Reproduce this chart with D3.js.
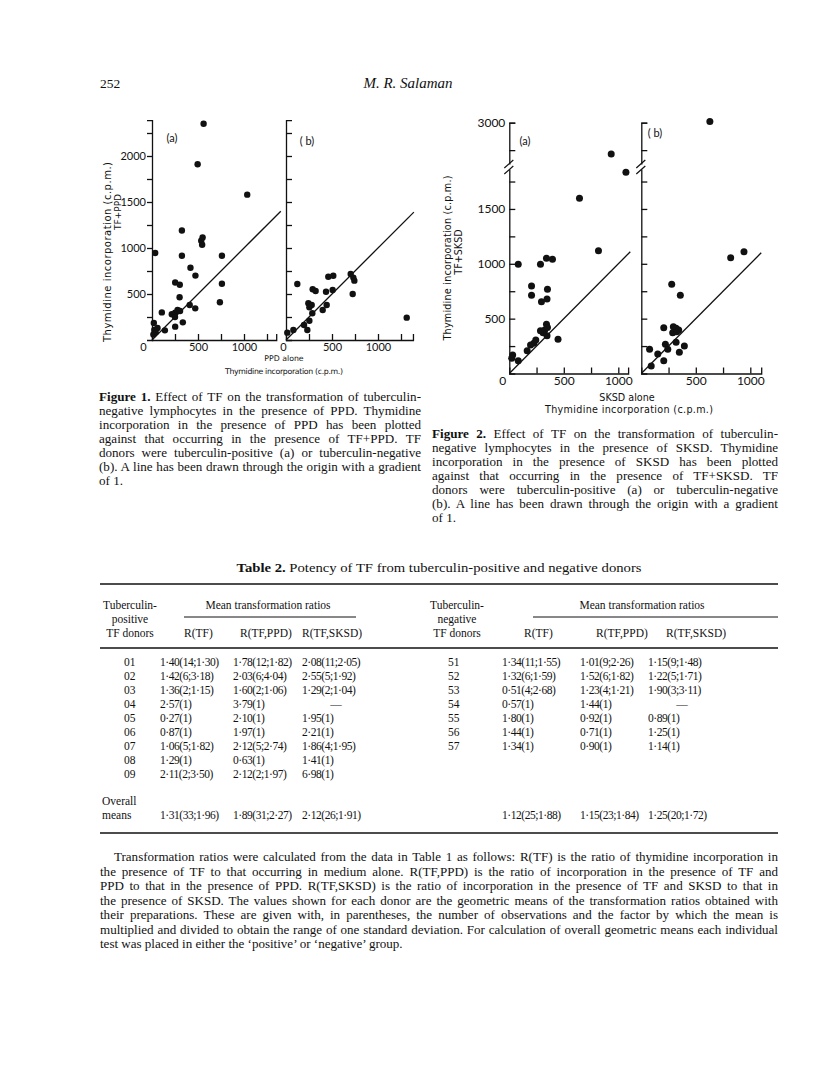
<!DOCTYPE html>
<html><head><meta charset="utf-8">
<script src="https://cdn.jsdelivr.net/npm/d3@7"></script>
<style>body{margin:0;background:#fff}</style>
</head><body>
<svg id="page" width="816" height="1079"></svg>
<script>
// ---------------- DATA ----------------
// Figure 1: PPD alone (x) vs TF+PPD (y), c.p.m.
const fig1aPoints = [[561,2350],[496,1910],[1035,1580],[325,1190],[550,1115],[535,1080],[545,1035],[35,945],[325,915],[760,915],[418,786],[472,700],[252,625],[302,600],[760,612],[300,465],[738,410],[410,380],[470,344],[107,300],[215,280],[252,297],[278,326],[305,315],[250,250],[335,192],[252,145],[140,105],[20,185],[25,110],[40,85],[15,60],[60,130]];
const fig1bPoints = [[123,609],[290,551],[322,533],[435,525],[507,543],[460,688],[514,699],[703,717],[732,678],[743,645],[725,500],[1312,243],[243,399],[254,355],[279,380],[286,290],[399,326],[442,380],[196,163],[254,210],[232,109],[80,109],[14,80]];
// Figure 2: SKSD alone (x) vs TF+SKSD (y), c.p.m.
const fig2aPoints = [[935,2715],[1070,1835],[644,1597],[818,1120],[82,995],[286,995],[341,1050],[396,1041],[204,798],[204,713],[350,767],[346,679],[295,655],[341,448],[325,396],[310,372],[286,390],[350,420],[447,312],[225,275],[243,305],[195,260],[164,208],[31,169],[22,139],[82,117],[346,345]];
const fig2bPoints = [[629,3010],[942,1110],[820,1056],[279,813],[358,713],[206,418],[294,427],[319,412],[343,396],[288,372],[325,381],[319,284],[221,266],[243,221],[395,251],[349,193],[76,221],[151,178],[206,117],[91,68]];

const fig1YTicks = [250,500,750,1000,1250,1500,1750,2000,2250];
const fig1YLabels = [500,1000,1500,2000];
const fig1XTicks = [0,250,500,750,1000,1250];
const fig1XLabels = [0,500,1000];
const fig2YTicks = [250,500,750,1000,1250,1500,1750,2750,3000];
const fig2YLabels = [500,1000,1500,3000];
const fig2XTicks = [0,250,500,750,1000];
const fig2XLabels = [0,500,1000];

// Table 2
const posDonors = ["01","02","03","04","05","06","07","08","09"];
const posRTF = ["1·40(14;1·30)","1·42(6;3·18)","1·36(2;1·15)","2·57(1)","0·27(1)","0·87(1)","1·06(5;1·82)","1·29(1)","2·11(2;3·50)"];
const posRTFPPD = ["1·78(12;1·82)","2·03(6;4·04)","1·60(2;1·06)","3·79(1)","2·10(1)","1·97(1)","2·12(5;2·74)","0·63(1)","2·12(2;1·97)"];
const posRTFSKSD = ["2·08(11;2·05)","2·55(5;1·92)","1·29(2;1·04)","—","1·95(1)","2·21(1)","1·86(4;1·95)","1·41(1)","6·98(1)"];
const negDonors = ["51","52","53","54","55","56","57"];
const negRTF = ["1·34(11;1·55)","1·32(6;1·59)","0·51(4;2·68)","0·57(1)","1·80(1)","1·44(1)","1·34(1)"];
const negRTFPPD = ["1·01(9;2·26)","1·52(6;1·82)","1·23(4;1·21)","1·44(1)","0·92(1)","0·71(1)","0·90(1)"];
const negRTFSKSD = ["1·15(9;1·48)","1·22(5;1·71)","1·90(3;3·11)","—","0·89(1)","1·25(1)","1·14(1)"];
const posOverall = ["1·31(33;1·96)","1·89(31;2·27)","2·12(26;1·91)"];
const negOverall = ["1·12(25;1·88)","1·15(23;1·84)","1·25(20;1·72)"];

const fig1Caption = ["Figure 1. Effect of TF on the transformation of tuberculin-","negative lymphocytes in the presence of PPD. Thymidine","incorporation in the presence of PPD has been plotted","against that occurring in the presence of TF+PPD. TF","donors were tuberculin-positive (a) or tuberculin-negative","(b). A line has been drawn through the origin with a gradient","of 1."];
const fig2Caption = ["Figure 2. Effect of TF on the transformation of tuberculin-","negative lymphocytes in the presence of SKSD. Thymidine","incorporation in the presence of SKSD has been plotted","against that occurring in the presence of TF+SKSD. TF","donors were tuberculin-positive (a) or tuberculin-negative","(b). A line has been drawn through the origin with a gradient","of 1."];
const noteLines = ["Transformation ratios were calculated from the data in Table 1 as follows: R(TF) is the ratio of thymidine incorporation in","the presence of TF to that occurring in medium alone. R(TF,PPD) is the ratio of incorporation in the presence of TF and","PPD to that in the presence of PPD. R(TF,SKSD) is the ratio of incorporation in the presence of TF and SKSD to that in","the presence of SKSD. The values shown for each donor are the geometric means of the transformation ratios obtained with","their preparations. These are given with, in parentheses, the number of observations and the factor by which the mean is","multiplied and divided to obtain the range of one standard deviation. For calculation of overall geometric means each individual","test was placed in either the \u2018positive\u2019 or \u2018negative\u2019 group."];

// ---------------- DRAWING ----------------
const svg = d3.select("#page");
svg.append("rect").attr("width",816).attr("height",1079).attr("fill","#fff");
const SANS = "Lato, 'Noto Sans', sans-serif";
const TITLE_SANS = "'DejaVu Sans', Lato, sans-serif";
const SERIF = "'Liberation Serif', 'Times New Roman', serif";
const INK = "#111";

function drawPanel(o) {
  const g = svg.append("g");
  const x = d3.scaleLinear().domain([0, o.xMax]).range([o.x0, o.x0 + o.xMax * o.kx]);
  const y = o.y;
  const ya = d3.axisLeft(y).tickValues(o.yTicks).tickSizeOuter(0)
    .tickSize(o.yIn ? -6 : 5).tickPadding(o.yIn ? 4 : 1)
    .tickFormat(d => (o.yLabels.includes(d) ? d : ""));
  const yg = g.append("g").attr("transform", `translate(${o.x0},0)`).call(ya);
  const xa = d3.axisBottom(x).tickValues(o.xTicks).tickSizeOuter(0).tickSize(-6).tickPadding(3)
    .tickFormat(d => (o.xLabels.includes(d) ? d : ""));
  const xg = g.append("g").attr("transform", `translate(0,${y(0)})`).call(xa);
  [yg, xg].forEach(a => {
    a.attr("font-family", SANS).attr("font-size", o.fs).attr("color", INK);
    a.selectAll("path,line").attr("stroke-width", 1.3);
  });
  xg.selectAll(".tick").filter(d => d === 0).select("line").remove();
  xg.selectAll(".tick text").filter(d => d === 0).attr("dx", o.zeroDx);
  g.append("line").attr("x1", x(0)).attr("y1", y(0)).attr("x2", x(o.lineMax)).attr("y2", y(o.lineMax))
    .attr("stroke", INK).attr("stroke-width", 1.3);
  g.selectAll("circle.pt").data(o.points).join("circle").attr("class","pt")
    .attr("cx", d => x(d[0])).attr("cy", d => y(d[1])).attr("r", o.r).attr("fill", INK);
  g.append("text").attr("x", o.lab[0]).attr("y", o.lab[1]).attr("text-anchor","middle")
    .attr("font-family", SANS).attr("font-size", 11).attr("fill", INK).text(o.labText);
  if (o.brk) {
    const by = o.brk;
    g.append("rect").attr("x", o.x0 - 2).attr("y", by - 2.5).attr("width", 4).attr("height", 5).attr("fill", "#fff");
    [-3, 3].forEach(dy => g.append("line").attr("x1", o.x0 - 5).attr("y1", by + dy + 4).attr("x2", o.x0 + 4).attr("y2", by + dy - 4)
      .attr("stroke", INK).attr("stroke-width", 1.2));
  }
  return {x, y};
}

// Figure 1
const k1 = 0.092;
const y1 = d3.scaleLinear().domain([0, 2390]).range([340, 340 - 2390 * k1]);
drawPanel({x0:152, kx:k1, xMax:1350, y:y1, yTicks:fig1YTicks, yLabels:fig1YLabels, yIn:false,
  xTicks:fig1XTicks, xLabels:fig1XLabels, zeroDx:-9, points:fig1aPoints, lineMax:1400, r:3.2, fs:11,
  lab:[172,142], labText:"(a)"});
drawPanel({x0:286, kx:k1, xMax:1380, y:y1, yTicks:fig1YTicks, yLabels:[], yIn:true,
  xTicks:fig1XTicks, xLabels:fig1XLabels, zeroDx:-3, points:fig1bPoints, lineMax:1390, r:3.2, fs:11,
  lab:[307,145], labText:"( b)"});

// Figure 2 (broken y axis)
const k2 = 0.1097;
const y2 = d3.scaleLinear().domain([0, 1880, 2600, 3000])
  .range([373.5, 373.5 - 1880 * k2, 122.7 + 400 * k2, 122.7]);
drawPanel({x0:509.3, kx:0.109, xMax:1090, y:y2, yTicks:fig2YTicks, yLabels:fig2YLabels, yIn:true,
  xTicks:fig2XTicks, xLabels:fig2XLabels, zeroDx:-7, points:fig2aPoints, lineMax:1110, r:3.5, fs:12,
  lab:[525,145], labText:"(a)", brk:167});
drawPanel({x0:641.3, kx:0.109, xMax:1100, y:y2, yTicks:fig2YTicks, yLabels:[], yIn:true,
  xTicks:fig2XTicks.filter(d => d > 0), xLabels:[500,1000], zeroDx:0, points:fig2bPoints, lineMax:1100, r:3.5, fs:12,
  lab:[655,137], labText:"( b)", brk:167});

// axis titles
function sansText(x, y, txt, fs, len, rot) {
  const t = svg.append("text").attr("font-family", TITLE_SANS).attr("font-size", fs).attr("fill", INK)
    .attr("text-anchor", "middle").text(txt);
  if (rot) t.attr("transform", `translate(${x},${y}) rotate(-90)`);
  else t.attr("x", x).attr("y", y);
  if (len) t.attr("textLength", len).attr("lengthAdjust", "spacing");
  return t;
}
sansText(111, 252, "Thymidine incorporation (c.p.m.)", 10, 180, true);
sansText(121, 212, "TF+PPD", 9, null, true);
sansText(284, 361, "PPD alone", 7.8, null);
sansText(284, 374, "Thymidine incorporation (c.p.m.)", 7.8, 118);
sansText(451, 258, "Thymidine incorporation (c.p.m.)", 9.6, 165, true);
sansText(462, 252, "TF+SKSD", 9.6, null, true);
sansText(627, 401, "SKSD alone", 9.6, null);
sansText(629, 413, "Thymidine incorporation (c.p.m.)", 9.6, 168);

// page header
svg.append("text").attr("x", 100).attr("y", 88).attr("font-family", SERIF).attr("font-size", 13.5).attr("fill", INK).text("252");
svg.append("text").attr("x", 408).attr("y", 88).attr("text-anchor","middle").attr("font-family", SERIF)
  .attr("font-style","italic").attr("font-size", 15).attr("fill", INK).text("M. R. Salaman");

// justified text blocks: uniform horizontal glyph scale + word-spacing
function makeLine(ln, fs, boldPrefix, first) {
  const t = svg.append("text").attr("font-family", SERIF).attr("font-size", fs).attr("fill", INK);
  if (first && boldPrefix && ln.startsWith(boldPrefix)) {
    t.append("tspan").attr("font-weight", "bold").text(boldPrefix);
    t.append("tspan").text(ln.slice(boldPrefix.length));
  } else t.text(ln);
  return t;
}
function blockScale(lines, x0, x1, fs, boldPrefix, indent) {
  let s = Infinity;
  lines.slice(0, -1).forEach((ln, i) => {
    const t = makeLine(ln, fs, boldPrefix, i === 0);
    const w = t.node().getComputedTextLength();
    t.remove();
    const target = x1 - x0 - (i === 0 && indent ? indent : 0);
    s = Math.min(s, target / w);
  });
  return s * 0.985;
}
function justified(lines, x0, x1, y0, lh, fs, boldPrefix, indent, s) {
  lines.forEach((ln, i) => {
    const xs = x0 + (i === 0 && indent ? indent : 0);
    const t = makeLine(ln, fs, boldPrefix, i === 0)
      .attr("transform", `translate(${xs},${y0 + i * lh}) scale(${s},1)`);
    if (i < lines.length - 1) {
      const w = t.node().getComputedTextLength();
      const n = (ln.match(/ /g) || []).length;
      if (n > 0) t.attr("word-spacing", ((x1 - xs) / s - w) / n);
    }
  });
}
const capFS = 12;
const capScale = blockScale(fig1Caption, 99, 421, capFS, "Figure 1.");
justified(fig1Caption, 99, 421, 401, 14, capFS, "Figure 1.", 0, capScale);
justified(fig2Caption, 432, 778, 438, 14, capFS, "Figure 2.", 0, capScale);
const noteFS = 11.8;
const noteScale = blockScale(noteLines, 100, 778, noteFS, null, 14);
justified(noteLines, 100, 778, 861, 14.5, noteFS, null, 14, noteScale);

// ---------------- TABLE ----------------
const TFS = 11.5;
function serif(x, y, txt, anchor, bold) {
  const t = svg.append("text").attr("x", x).attr("y", y).attr("font-family", SERIF).attr("font-size", TFS)
    .attr("fill", INK).attr("text-anchor", anchor || "start").text(txt);
  if (bold) t.attr("font-weight", "bold");
  return t;
}
function val(x, y, txt, anchor) {
  return serif(x, y, txt, anchor).attr("letter-spacing", -0.45);
}
const title = svg.append("text").attr("x", 439).attr("y", 572).attr("text-anchor","middle")
  .attr("font-family", SERIF).attr("font-size", 12.5).attr("fill", INK)
  .attr("textLength", 405).attr("lengthAdjust", "spacingAndGlyphs");
title.append("tspan").attr("font-weight","bold").text("Table 2.");
title.append("tspan").text(" Potency of TF from tuberculin-positive and negative donors");

function rule(x1, x2, y, w) {
  svg.append("line").attr("x1", x1).attr("x2", x2).attr("y1", y).attr("y2", y).attr("stroke", INK).attr("stroke-width", w);
}
rule(100, 778, 584, 1.6);
rule(100, 778, 648, 1.6);
rule(100, 778, 833, 1.6);
rule(184, 356, 617, 1);
rule(533, 778, 617, 1);

["Tuberculin-","positive","TF donors"].forEach((s, i) => serif(130, 609 + 14 * i, s, "middle"));
["Tuberculin-","negative","TF donors"].forEach((s, i) => serif(457, 609 + 14 * i, s, "middle"));
serif(268, 609, "Mean transformation ratios", "middle");
serif(642, 609, "Mean transformation ratios", "middle");
const colPos = [160, 233, 302];
const colNeg = [502, 580, 648];
const hdrPos = [184, 240, 302];
const hdrNeg = [524, 596, 666];
["R(TF)","R(TF,PPD)","R(TF,SKSD)"].forEach((s, i) => { serif(hdrPos[i], 637, s); serif(hdrNeg[i], 637, s); });

function cell(x, y, v) { if (v === "—") serif(x + 34, y, v, "middle"); else val(x, y, v); }
posDonors.forEach((d, i) => {
  const yy = 666 + 14 * i;
  serif(124, yy, d);
  cell(colPos[0], yy, posRTF[i]); cell(colPos[1], yy, posRTFPPD[i]); cell(colPos[2], yy, posRTFSKSD[i]);
});
negDonors.forEach((d, i) => {
  const yy = 666 + 14 * i;
  serif(448, yy, d);
  cell(colNeg[0], yy, negRTF[i]); cell(colNeg[1], yy, negRTFPPD[i]); cell(colNeg[2], yy, negRTFSKSD[i]);
});
serif(102, 805, "Overall");
serif(102, 819, "means");
posOverall.forEach((v, i) => val(colPos[i], 819, v));
negOverall.forEach((v, i) => val(colNeg[i], 819, v));
</script>
</body></html>
